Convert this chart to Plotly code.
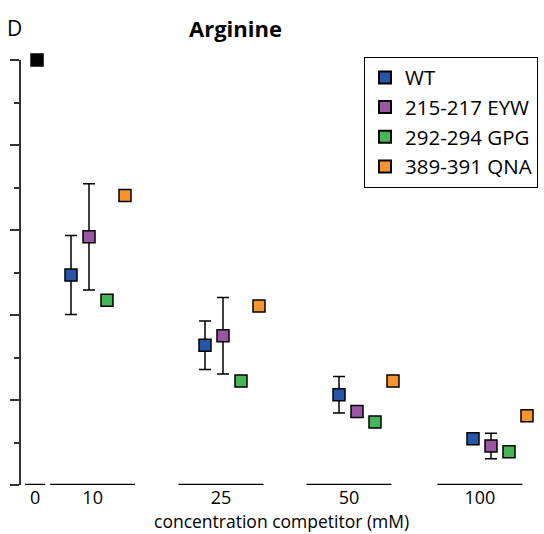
import plotly.graph_objects as go

# ---- data ----
groups = ["0", "10", "25", "50", "100"]
group_x = [-0.455, 0.0, 1.0, 2.0, 3.0]          # point-group centres (axis units)
label_x = [-0.47, -0.04, 0.918, 1.873, 2.85]      # tick label / segment centres
control_value = 1.0

series_names = ["WT", "215-217 EYW", "292-294 GPG", "389-391 QNA"]
series_colors = ["#2557a7", "#9b56a3", "#45b757", "#f7942c"]
wt = [0.494, 0.329, 0.2125, 0.109]
wt_err = [0.093, 0.057, 0.043, 0.004]
eyw = [0.584, 0.351, 0.173, 0.092]
eyw_err = [0.125, 0.090, 0.006, 0.030]
gpg = [0.435, 0.245, 0.148, 0.078]
gpg_err = [0.003, 0.004, 0.004, 0.006]
qna = [0.681, 0.421, 0.245, 0.163]
qna_err = [0.003, 0.004, 0.003, 0.005]
series_vals = [wt, eyw, gpg, qna]
series_errs = [wt_err, eyw_err, gpg_err, qna_err]

offset_step = 0.1343
font_family = "'Open Sans', sans-serif"

fig = go.Figure()

# control point at 0 mM
fig.add_trace(go.Scatter(
    x=[group_x[0]], y=[control_value], mode="markers",
    marker=dict(symbol="square", size=12, color="black", line=dict(color="black", width=1.5)),
    showlegend=False, cliponaxis=False))

for i, (name, col, vals, errs) in enumerate(zip(series_names, series_colors, series_vals, series_errs)):
    xs = [gx + (i - 1.5) * offset_step for gx in group_x[1:]]
    fig.add_trace(go.Scatter(
        x=xs, y=vals, mode="markers", name=name,
        marker=dict(symbol="square", size=12, color=col, line=dict(color="black", width=1.5)),
        error_y=dict(type="data", array=errs, visible=True, color="black", thickness=1.5, width=6),
        cliponaxis=False))

# x-axis baseline segments
half_w = [0.075, 0.317, 0.317, 0.317, 0.317]
for cx, hw in zip(label_x, half_w):
    fig.add_shape(type="line", xref="x", yref="y", x0=cx - hw, x1=cx + hw, y0=0, y1=0,
                  line=dict(color="black", width=2.5))

fig.update_layout(
    width=544, height=534,
    margin=dict(l=21, r=0, t=60, b=49, autoexpand=False),
    plot_bgcolor="white", paper_bgcolor="white",
    font=dict(family=font_family, size=19, color="black"),
    showlegend=True,
    legend=dict(x=(538 - 21) / 523, y=1.008, xanchor="right", yanchor="top",
                bordercolor="black", borderwidth=1, bgcolor="white",
                font=dict(size=20.5), tracegroupgap=0, itemsizing="constant"),
    xaxis=dict(range=[-0.5746, 3.3284], showline=False, showgrid=False, zeroline=False,
               automargin=False,
               tickmode="array", tickvals=label_x, ticktext=groups, ticks="",
               tickfont=dict(size=18), ticklabelstandoff=0),
    yaxis=dict(range=[0, 1], showline=True, linecolor="#333333", linewidth=1.5,
               automargin=False,
               showgrid=False, zeroline=False, showticklabels=False,
               ticks="outside", ticklen=9, tickwidth=1.5, tickcolor="#333333",
               tick0=0, dtick=0.2,
               minor=dict(ticks="outside", ticklen=5, tickwidth=1.5, tickcolor="#333333", dtick=0.1, showgrid=False)),
    annotations=[
        dict(text="D", xref="paper", yref="paper", showarrow=False,
             font=dict(size=21), xanchor="center", yanchor="middle"),
        dict(text="<b>Arginine</b>", xref="paper", yref="paper", showarrow=False,
             font=dict(size=22), xanchor="center", yanchor="middle"),
        dict(text="concentration competitor (mM)", xref="paper", yref="paper", showarrow=False,
             font=dict(size=17.5), xanchor="center", yanchor="bottom", borderpad=0),
    ],
)

# position annotations in pixel terms via paper coords
plot_w = 544 - 21
plot_h = 534 - 60 - 49
def px_to_paper(px, py):
    return (px - 21) / plot_w, (485 - py) / plot_h

ax, ay = px_to_paper(14, 28)
bx, by = px_to_paper(235, 28)
cx_, cy_ = px_to_paper(281, 534)
fig.layout.annotations[0].update(x=ax, y=ay)
fig.layout.annotations[1].update(x=bx, y=by)
fig.layout.annotations[2].update(x=cx_, y=cy_)

fig.write_html("out.html")
